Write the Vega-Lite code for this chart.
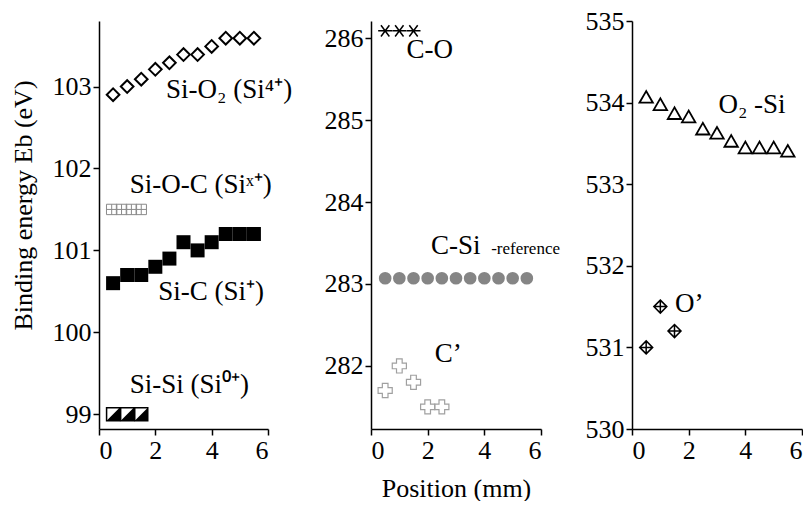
{
  "$schema": "https://vega.github.io/schema/vega-lite/v6.json",
  "background": "white",
  "padding": {"left": 10, "top": 8, "right": 0, "bottom": 0},
  "datasets": {
    "points": [
      {"series": "SiO2", "position": 0.5, "energy": 102.90},
      {"series": "SiO2", "position": 1.0, "energy": 103.00},
      {"series": "SiO2", "position": 1.5, "energy": 103.09},
      {"series": "SiO2", "position": 2.0, "energy": 103.21},
      {"series": "SiO2", "position": 2.5, "energy": 103.29},
      {"series": "SiO2", "position": 3.0, "energy": 103.39},
      {"series": "SiO2", "position": 3.5, "energy": 103.39},
      {"series": "SiO2", "position": 4.0, "energy": 103.49},
      {"series": "SiO2", "position": 4.5, "energy": 103.59},
      {"series": "SiO2", "position": 5.0, "energy": 103.59},
      {"series": "SiO2", "position": 5.5, "energy": 103.59},
      {"series": "SiOC", "position": 0.45, "energy": 101.5},
      {"series": "SiOC", "position": 0.8, "energy": 101.5},
      {"series": "SiOC", "position": 1.15, "energy": 101.5},
      {"series": "SiOC", "position": 1.5, "energy": 101.5},
      {"series": "SiC", "position": 0.5, "energy": 100.6},
      {"series": "SiC", "position": 1.0, "energy": 100.7},
      {"series": "SiC", "position": 1.5, "energy": 100.7},
      {"series": "SiC", "position": 2.0, "energy": 100.8},
      {"series": "SiC", "position": 2.5, "energy": 100.9},
      {"series": "SiC", "position": 3.0, "energy": 101.1},
      {"series": "SiC", "position": 3.5, "energy": 101.0},
      {"series": "SiC", "position": 4.0, "energy": 101.1},
      {"series": "SiC", "position": 4.5, "energy": 101.2},
      {"series": "SiC", "position": 5.0, "energy": 101.2},
      {"series": "SiC", "position": 5.5, "energy": 101.2},
      {"series": "SiSi", "position": 0.5, "energy": 99.0},
      {"series": "SiSi", "position": 1.0, "energy": 99.0},
      {"series": "SiSi", "position": 1.5, "energy": 99.0},
      {"series": "CO", "position": 0.5, "energy": 286.09},
      {"series": "CO", "position": 1.0, "energy": 286.09},
      {"series": "CO", "position": 1.5, "energy": 286.09},
      {"series": "CSi", "position": 0.5, "energy": 283.07},
      {"series": "CSi", "position": 1.0, "energy": 283.07},
      {"series": "CSi", "position": 1.5, "energy": 283.07},
      {"series": "CSi", "position": 2.0, "energy": 283.07},
      {"series": "CSi", "position": 2.5, "energy": 283.07},
      {"series": "CSi", "position": 3.0, "energy": 283.07},
      {"series": "CSi", "position": 3.5, "energy": 283.07},
      {"series": "CSi", "position": 4.0, "energy": 283.07},
      {"series": "CSi", "position": 4.5, "energy": 283.07},
      {"series": "CSi", "position": 5.0, "energy": 283.07},
      {"series": "CSi", "position": 5.5, "energy": 283.07},
      {"series": "Cp", "position": 0.5, "energy": 281.7},
      {"series": "Cp", "position": 1.0, "energy": 282.0},
      {"series": "Cp", "position": 1.5, "energy": 281.8},
      {"series": "Cp", "position": 2.0, "energy": 281.5},
      {"series": "Cp", "position": 2.5, "energy": 281.5},
      {"series": "O2Si", "position": 0.5, "energy": 534.07},
      {"series": "O2Si", "position": 1.0, "energy": 533.98},
      {"series": "O2Si", "position": 1.5, "energy": 533.87},
      {"series": "O2Si", "position": 2.0, "energy": 533.83},
      {"series": "O2Si", "position": 2.5, "energy": 533.68},
      {"series": "O2Si", "position": 3.0, "energy": 533.63},
      {"series": "O2Si", "position": 3.5, "energy": 533.53},
      {"series": "O2Si", "position": 4.0, "energy": 533.45},
      {"series": "O2Si", "position": 4.5, "energy": 533.45},
      {"series": "O2Si", "position": 5.0, "energy": 533.45},
      {"series": "O2Si", "position": 5.5, "energy": 533.41},
      {"series": "Op", "position": 0.5, "energy": 531.0},
      {"series": "Op", "position": 1.0, "energy": 531.5},
      {"series": "Op", "position": 1.5, "energy": 531.2}
    ],
    "labels": [
      {"panel": 1, "text": "Si-O₂ (Si⁴⁺)", "position": 2.38, "energy": 102.865},
      {"panel": 1, "text": "Si-O-C (Siˣ⁺)", "position": 1.09, "energy": 101.70},
      {"panel": 1, "text": "Si-C (Si⁺)", "position": 2.10, "energy": 100.395},
      {"panel": 1, "text": "Si-Si (Si⁰⁺)", "position": 1.09, "energy": 99.26},
      {"panel": 2, "text": "C-O", "position": 1.25, "energy": 285.76},
      {"panel": 2, "text": "C-Si", "position": 2.12, "energy": 283.36},
      {"panel": 2, "text": "C’", "position": 2.25, "energy": 282.045},
      {"panel": 3, "text": "O₂ -Si", "position": 3.05, "energy": 533.87},
      {"panel": 3, "text": "O’", "position": 1.52, "energy": 531.43}
    ],
    "small": [
      {"panel": 2, "text": "-reference", "position": 4.24, "energy": 283.36}
    ]
  },
  "config": {
    "view": {"stroke": null},
    "font": "Liberation Serif",
    "axis": {
      "grid": false,
      "domainColor": "black",
      "domainWidth": 1.5,
      "tickColor": "black",
      "tickWidth": 1.5,
      "tickSize": 6,
      "labelFont": "Liberation Serif",
      "labelFontSize": 26,
      "labelColor": "black",
      "labelPadding": 2,
      "titleFont": "Liberation Serif",
      "titleFontSize": 26,
      "titleFontWeight": "normal",
      "titleColor": "black"
    }
  },
  "hconcat": [
    {
      "spacing": 31,
      "hconcat": [
        {
          "width": 169,
          "height": 408,
          "data": {"name": "points"},
          "encoding": {
            "x": {"field": "position", "type": "quantitative", "scale": {"domain": [0, 6], "nice": false, "zero": false}, "axis": {"values": [0, 2, 4, 6], "title": null}},
            "y": {"field": "energy", "type": "quantitative", "scale": {"domain": [98.82, 103.8], "nice": false, "zero": false}, "axis": {"values": [99, 100, 101, 102, 103], "title": "Binding energy Eb (eV)", "titlePadding": 16, "titleY": 184}}
          },
          "layer": [
            {"transform": [{"filter": "datum.series === 'SiO2'"}], "mark": {"type": "point", "shape": "diamond", "filled": false, "stroke": "black", "strokeWidth": 2, "size": 160, "opacity": 1}},
            {"transform": [{"filter": "datum.series === 'SiOC'"}], "mark": {"type": "point", "shape": "M -1 -1 H 1 V 1 H -1 Z M 0 -1 V 1 M -1 0 H 1", "filled": false, "stroke": "#8a8a8a", "strokeWidth": 1, "size": 108, "opacity": 1}},
            {"transform": [{"filter": "datum.series === 'SiC'"}], "mark": {"type": "point", "shape": "square", "filled": true, "fill": "black", "size": 196, "opacity": 1}},
            {"transform": [{"filter": "datum.series === 'SiSi'"}], "mark": {"type": "point", "shape": "square", "filled": true, "fill": "white", "stroke": "black", "strokeWidth": 1.5, "size": 169, "opacity": 1}},
            {"transform": [{"filter": "datum.series === 'SiSi'"}], "mark": {"type": "point", "shape": "M -1 1 L 1 -1 L 1 1 Z", "filled": true, "fill": "black", "size": 169, "opacity": 1}},
            {"data": {"name": "labels"}, "transform": [{"filter": "datum.panel === 1"}], "mark": {"type": "text", "align": "left", "baseline": "alphabetic", "font": "Liberation Serif", "fontSize": 27, "color": "black"}, "encoding": {"text": {"field": "text"}}}
          ]
        },
        {
          "width": 170,
          "height": 408,
          "data": {"name": "points"},
          "encoding": {
            "x": {"field": "position", "type": "quantitative", "scale": {"domain": [0, 6], "nice": false, "zero": false}, "axis": {"values": [0, 2, 4, 6], "title": "Position (mm)", "titlePadding": 12}},
            "y": {"field": "energy", "type": "quantitative", "scale": {"domain": [281.23, 286.21], "nice": false, "zero": false}, "axis": {"values": [282, 283, 284, 285, 286], "title": null}}
          },
          "layer": [
            {"transform": [{"filter": "datum.series === 'CO'"}], "mark": {"type": "point", "shape": "M -1 0 L 1 0 M -0.6 -0.8 L 0.6 0.8 M 0.6 -0.8 L -0.6 0.8", "filled": false, "stroke": "black", "strokeWidth": 1.5, "size": 196, "opacity": 1}},
            {"transform": [{"filter": "datum.series === 'CSi'"}], "mark": {"type": "point", "shape": "circle", "filled": true, "fill": "#858585", "size": 160, "opacity": 1}},
            {"transform": [{"filter": "datum.series === 'Cp'"}], "mark": {"type": "point", "shape": "cross", "filled": false, "stroke": "#a0a0a0", "strokeWidth": 1.2, "size": 200, "opacity": 1}},
            {"data": {"name": "labels"}, "transform": [{"filter": "datum.panel === 2"}], "mark": {"type": "text", "align": "left", "baseline": "alphabetic", "font": "Liberation Serif", "fontSize": 27, "color": "black"}, "encoding": {"text": {"field": "text"}}},
            {"data": {"name": "small"}, "mark": {"type": "text", "align": "left", "baseline": "alphabetic", "font": "Liberation Serif", "fontSize": 17, "color": "black"}, "encoding": {"text": {"field": "text"}}}
          ]
        }
      ]
    },
    {
      "width": 170,
      "height": 408,
      "data": {"name": "points"},
      "encoding": {
        "x": {"field": "position", "type": "quantitative", "scale": {"domain": [0, 6], "nice": false, "zero": false}, "axis": {"values": [0, 2, 4, 6], "title": null}},
        "y": {"field": "energy", "type": "quantitative", "scale": {"domain": [530, 535], "nice": false, "zero": false}, "axis": {"values": [530, 531, 532, 533, 534, 535], "title": null}}
      },
      "layer": [
        {"transform": [{"filter": "datum.series === 'O2Si'"}], "mark": {"type": "point", "shape": "triangle-up", "filled": false, "stroke": "black", "strokeWidth": 1.8, "size": 180, "opacity": 1}},
        {"transform": [{"filter": "datum.series === 'Op'"}], "mark": {"type": "point", "shape": "M 0 -1 L 1 0 L 0 1 L -1 0 Z M 0 -1 L 0 1 M -1 0 L 1 0", "filled": false, "stroke": "black", "strokeWidth": 1.5, "size": 169, "opacity": 1}},
        {"data": {"name": "labels"}, "transform": [{"filter": "datum.panel === 3"}], "mark": {"type": "text", "align": "left", "baseline": "alphabetic", "font": "Liberation Serif", "fontSize": 27, "color": "black"}, "encoding": {"text": {"field": "text"}}}
      ]
    }
  ],
  "spacing": 24
}
